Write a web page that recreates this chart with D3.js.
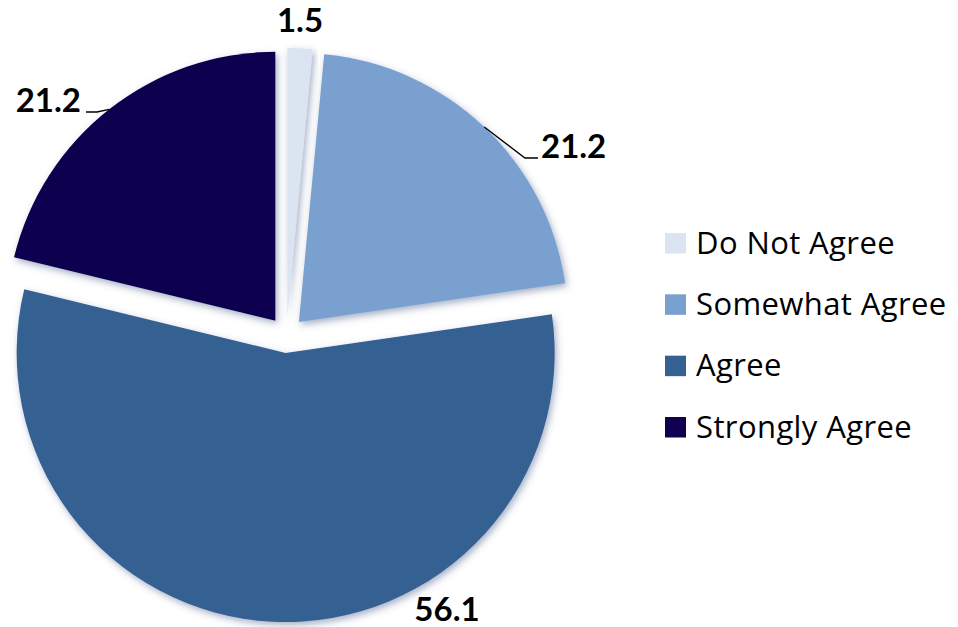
<!DOCTYPE html>
<html><head><meta charset="utf-8">
<script src="https://cdn.jsdelivr.net/npm/d3@7"></script>
<style>html,body{margin:0;padding:0;background:#fff;}svg{display:block;}</style>
</head><body>
<svg id="c" width="958" height="627"></svg>
<script>
const categories = ["Do Not Agree", "Somewhat Agree", "Agree", "Strongly Agree"];
const values = [1.5, 21.2, 56.1, 21.2];
const labels = ["1.5", "21.2", "56.1", "21.2"];
const colors = ["#dbe5f1", "#7aa0d0", "#366092", "#10004f"];

const svg = d3.select("#c");
const W = 958, H = 627;
const cx = 286.5, cy = 335, R = 269, explode = 18;

const defs = svg.append("defs");
const f = defs.append("filter").attr("id","sh").attr("x","-20%").attr("y","-20%").attr("width","140%").attr("height","140%");
f.append("feDropShadow").attr("dx",2).attr("dy",3).attr("stdDeviation",3.5)
 .attr("flood-color","#4a5f8f").attr("flood-opacity",0.5);

const pie = d3.pie().sort(null).value(d => d).startAngle(0).endAngle(2*Math.PI);
const arcs = pie(values);
const arc = d3.arc().innerRadius(0).outerRadius(R);
const color = d3.scaleOrdinal().domain(categories).range(colors);

const g = svg.append("g").attr("transform", `translate(${cx},${cy})`);
function off(d){ const a=(d.startAngle+d.endAngle)/2; return [explode*Math.sin(a), -explode*Math.cos(a)]; }

g.selectAll("path.slice").data(arcs).join("path")
  .attr("class","slice")
  .attr("d", arc)
  .attr("fill", (d,i) => color(categories[i]))
  .attr("filter","url(#sh)")
  .attr("transform", d => { const o=off(d); return `translate(${o[0]},${o[1]})`; });

function outerPt(d, r){ const a=(d.startAngle+d.endAngle)/2; const o=off(d); return [o[0]+r*Math.sin(a), o[1]-r*Math.cos(a)]; }
const labelFont = "'Lato','Open Sans',sans-serif";
const legendFont = "'Open Sans','Lato',sans-serif";
const labelPos = [
  {x: 300-cx, y: 32-cy, anchor:"middle", leader:null},
  {x: 541-cx, y: 158-cy, anchor:"start", leader:{elbow:[525-cx,158-cy], end:[538-cx,158-cy]}},
  {x: 447-cx, y: 621-cy, anchor:"middle", leader:null},
  {x: 81-cx, y: 112-cy, anchor:"end", leader:{elbow:[97-cx,112-cy], end:[86-cx,112-cy]}}
];
arcs.forEach((d,i) => {
  const p = labelPos[i];
  if (p.leader) {
    const s = outerPt(d, R);
    g.append("path").attr("d", d3.line()([s, p.leader.elbow, p.leader.end]))
      .attr("fill","none").attr("stroke","#000").attr("stroke-width",1.3);
  }
  g.append("text").attr("x", p.x).attr("y", p.y).attr("text-anchor", p.anchor)
    .attr("font-family", labelFont).attr("font-weight","bold").attr("font-size", 33)
    .attr("fill","#000").text(labels[i]);
});

const lg = svg.append("g").attr("transform","translate(665,233)");
const rowY = d3.scalePoint().domain(categories).range([0, 184]);
categories.forEach((c,i) => {
  const row = lg.append("g").attr("transform", `translate(0,${rowY(c)})`);
  row.append("rect").attr("width",21).attr("height",20.5).attr("fill", color(c));
  row.append("text").attr("x",31).attr("y",20.5).attr("font-family", legendFont)
    .attr("font-size",31).attr("letter-spacing",0.4).attr("fill","#000").text(c);
});
</script>
</body></html>
